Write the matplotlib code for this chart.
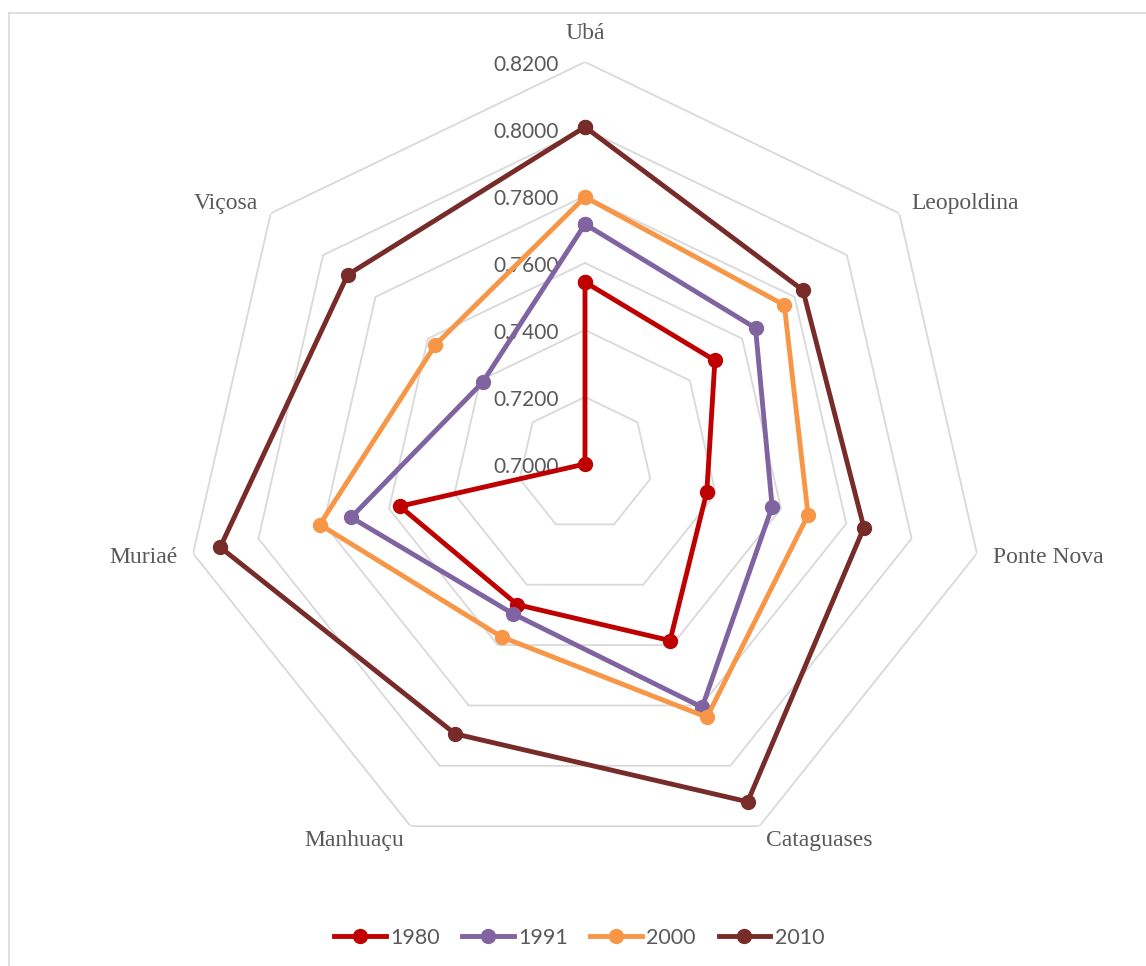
import numpy as np
import matplotlib
matplotlib.use("Agg")
import matplotlib.pyplot as plt
from matplotlib.lines import Line2D
from matplotlib.transforms import offset_copy

# data
categories = ["Ubá", "Leopoldina", "Ponte Nova", "Cataguases", "Manhuaçu", "Muriaé", "Viçosa"]
years = ["1980", "1991", "2000", "2010"]
v1980 = [0.7543, 0.7496, 0.7373, 0.7585, 0.7466, 0.7567, 0.7000]
v1991 = [0.7716, 0.7651, 0.7573, 0.7806, 0.7496, 0.7716, 0.7391]
v2000 = [0.7797, 0.7761, 0.7683, 0.7839, 0.7573, 0.7812, 0.7571]
v2010 = [0.8006, 0.7832, 0.7854, 0.8119, 0.7894, 0.8117, 0.7906]
ticks = [0.70, 0.72, 0.74, 0.76, 0.78, 0.80, 0.82]

series = [v1980, v1991, v2000, v2010]
colors = ["#C00000", "#8064A2", "#F79646", "#772C2A"]
grey_text = "#595959"

W, H = 1146, 966
fig = plt.figure(figsize=(W / 100, H / 100), dpi=100)

# chart area border (only top and left show in the reference)
fig.add_artist(Line2D([9 / W, 9 / W], [0, 1 - 13 / H], color="#d9d9d9", lw=1.2))
fig.add_artist(Line2D([9 / W, 1], [1 - 13 / H, 1 - 13 / H], color="#d9d9d9", lw=1.2))

cx, cy, R = 585, 464, 402
ax = fig.add_axes([(cx - R) / W, (H - cy - R) / H, 2 * R / W, 2 * R / H], projection="polar")
ax.set_theta_zero_location("N")
ax.set_theta_direction(-1)
ax.set_ylim(ticks[0], ticks[-1])
ax.grid(False)
ax.spines["polar"].set_visible(False)
ax.set_xticks([])
ax.set_yticks([])
ax.patch.set_alpha(0)

n = len(categories)
angles = np.arange(n) * 2 * np.pi / n
closed = np.append(angles, angles[0])

# heptagon gridlines
for t in ticks[1:]:
    ax.plot(closed, [t] * (n + 1), color="#d9d9d9", lw=1.3, zorder=1)

# radial tick labels along the top axis
for t in ticks:
    tr = offset_copy(ax.transData, fig=fig, x=-26, y=-3, units="dots")
    ax.text(0, t, f"{t:.4f}", transform=tr, ha="right", va="center",
            fontsize=15, family="Lato", color=grey_text, zorder=2)

# category labels just outside the outer ring
for a, name in zip(angles, categories):
    s, c = np.sin(a), np.cos(a)
    if abs(s) < 0.1:
        ha, va, gap = "center", "bottom", 18
    else:
        ha, va, gap = ("left" if s > 0 else "right"), "center", 16
    tr = offset_copy(ax.transData, fig=fig, x=gap * s, y=gap * c, units="dots")
    ax.text(a, ticks[-1], name, transform=tr, ha=ha, va=va, fontsize=17,
            family="Liberation Serif", color=grey_text)

for vals, col, lab in zip(series, colors, years):
    ax.plot(closed, vals + vals[:1], color=col, lw=3.5, marker="o", ms=10,
            label=lab, zorder=3, clip_on=False)

leg = fig.legend(loc="center", bbox_to_anchor=(579 / W, 1 - 938 / H), ncol=4,
                 frameon=False, handlelength=2.4, handletextpad=0.2,
                 columnspacing=1.05, prop={"family": "Lato", "size": 15.5})
for txt in leg.get_texts():
    txt.set_color(grey_text)

fig.savefig("out.png", dpi=100)
